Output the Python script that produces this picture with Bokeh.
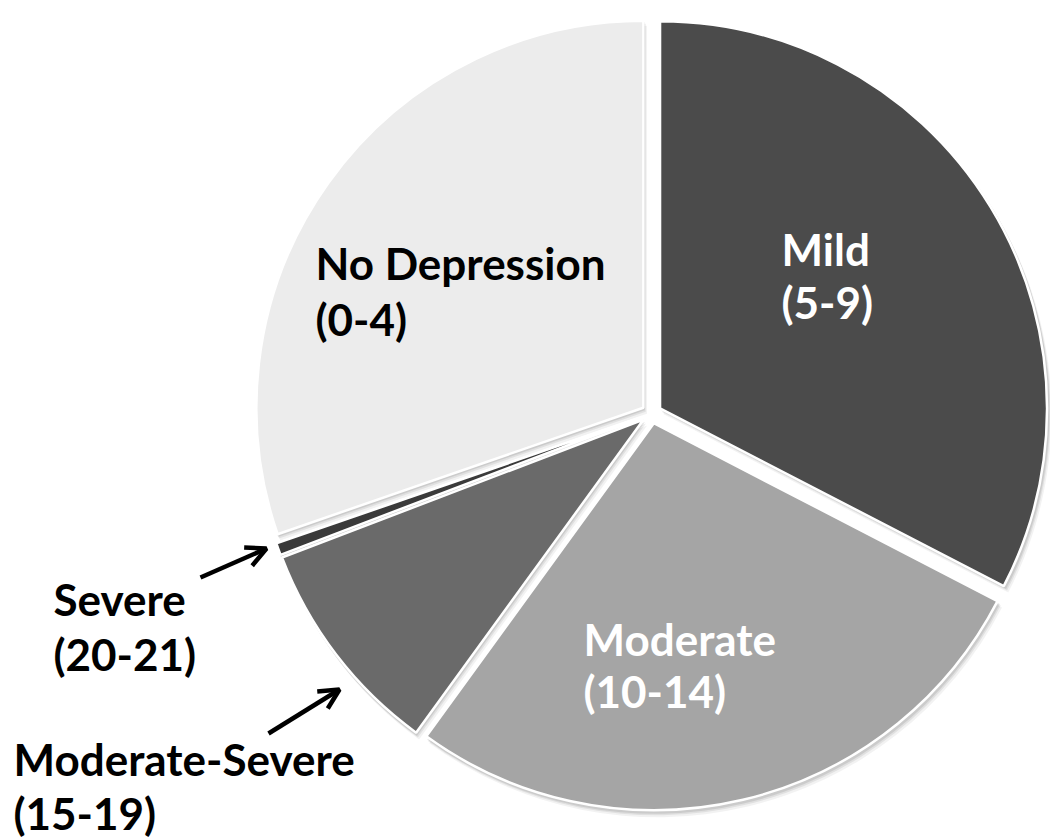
import math
from bokeh.plotting import figure
from bokeh.models import Range1d, Arrow, OpenHead
from bokeh.core.properties import value
from bokeh.embed import file_html
from bokeh.resources import INLINE

# ---- data (clockwise from 12 o'clock) ----
categories = ["Mild", "Moderate", "Moderate-Severe", "Severe", "No Depression"]
score_ranges = ["(5-9)", "(10-14)", "(15-19)", "(20-21)", "(0-4)"]
shares = [32.6, 27.4, 9.2, 0.5, 30.3]
colors = ["#4b4b4b", "#a5a5a5", "#6a6a6a", "#3a3a3a", "#ececec"]
text_colors = ["#ffffff", "#ffffff", "#000000", "#000000", "#000000"]

# ---- layout (reference pixel coordinates, y measured downward) ----
IMG_W, IMG_H = 1050, 839
CX, CY = 651, 413
R = 387
EXPLODE = 10
label_pos = {
    "Mild": (781, 248, 301),
    "Moderate": (583, 638, 690),
    "Moderate-Severe": (13, 758, 812),
    "Severe": (53, 598, 653),
    "No Depression": (315, 262, 318),
}
FONT = "Lato"
FS = "44px"


def Y(y):
    return IMG_H - y


p = figure(width=IMG_W, height=IMG_H, x_range=Range1d(0, IMG_W), y_range=Range1d(0, IMG_H),
           output_backend="svg", toolbar_location=None, min_border=0,
           x_axis_type=None, y_axis_type=None)
p.grid.visible = False
p.outline_line_color = None
p.background_fill_color = "white"

total = sum(shares)
cum = 0.0
slices = []
for cat, s in zip(categories, shares):
    t0 = cum / total * 2 * math.pi
    cum += s
    t1 = cum / total * 2 * math.pi
    tm = (t0 + t1) / 2
    ox = EXPLODE * math.sin(tm)
    oy = EXPLODE * math.cos(tm)
    slices.append((cat, t0, t1, tm, ox, oy))

# soft shadows
for cat, t0, t1, tm, ox, oy in slices:
    for k, a in [(6, 0.05), (4, 0.07), (2.5, 0.09)]:
        p.wedge(x=CX + ox + k * 0.6, y=Y(CY) + oy - k, radius=R + 1,
                start_angle=math.pi / 2 - t0, end_angle=math.pi / 2 - t1,
                direction="clock", fill_color="#000000", fill_alpha=a, line_color=None)

for (cat, t0, t1, tm, ox, oy), col in zip(slices, colors):
    p.wedge(x=CX + ox, y=Y(CY) + oy, radius=R,
            start_angle=math.pi / 2 - t0, end_angle=math.pi / 2 - t1,
            direction="clock", fill_color=col, line_color="white", line_width=2.5)

# labels
for cat, rng, tc in zip(categories, score_ranges, text_colors):
    lx, b1, b2 = label_pos[cat]
    p.text(x=[lx], y=[Y(b1)], text=[cat], text_font=value(FONT), text_font_style="bold",
           text_font_size=FS, text_color=tc, text_align="left", text_baseline="alphabetic")
    p.text(x=[lx], y=[Y(b2)], text=[rng], text_font=value(FONT), text_font_style="bold",
           text_font_size=FS, text_color=tc, text_align="left", text_baseline="alphabetic")

# arrows pointing at small slices
arrows = [((200, 577), (266, 548)), ((268, 733), (339, 689))]
for (x0, y0), (x1, y1) in arrows:
    p.add_layout(Arrow(end=OpenHead(size=20, line_width=4.5, line_color="black"),
                       x_start=x0, y_start=Y(y0), x_end=x1, y_end=Y(y1),
                       line_width=4.5, line_color="black"))

open("out.html", "w").write(file_html(p, INLINE))
